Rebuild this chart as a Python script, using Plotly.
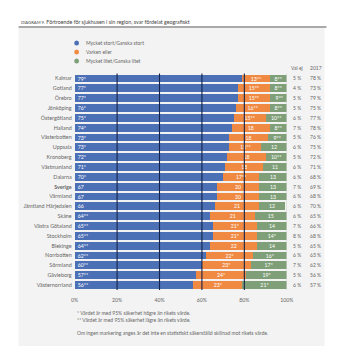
import plotly.graph_objects as go

regions = ["Kalmar", "Gotland", "Örebro", "Jönköping", "Östergötland", "Halland",
           "Västerbotten", "Uppsala", "Kronoberg", "Västmanland", "Dalarna", "Sverige",
           "Värmland", "Jämtland Härjedalen", "Skåne", "Västra Götaland", "Stockholm",
           "Blekinge", "Norrbotten", "Sörmland", "Gävleborg", "Västernorrland"]
high = [79, 77, 77, 76, 75, 74, 73, 73, 72, 71, 70, 67, 67, 66, 64, 65, 65, 64, 62, 60, 57, 56]
high_mark = ["*"] * 11 + [""] * 3 + ["**"] * 8
mid = [13, 15, 15, 16, 15, 18, 18, 15, 18, 18, 17, 20, 20, 21, 21, 21, 21, 22, 22, 23, 24, 23]
mid_mark = ["**", "**", "**", "**", "**", "", "", "**", "", "", "**", "", "", "", "", "*", "*", "", "*", "*", "*", "*"]
low = [8, 8, 9, 8, 10, 8, 9, 12, 10, 11, 13, 13, 13, 12, 15, 14, 14, 14, 16, 17, 19, 21]
low_mark = ["**", "**", "**", "**", "**", "**", "**", "", "**", "", "", "", "", "", "", "", "*", "", "*", "*", "*", "*"]
val_ej = [5, 4, 5, 5, 6, 7, 5, 6, 5, 6, 6, 7, 6, 6, 6, 7, 8, 5, 6, 7, 5, 6]
y2017 = [78, 73, 79, 75, 77, 78, 76, 75, 72, 71, 68, 69, 68, 70, 65, 66, 68, 65, 63, 62, 56, 57]
series_names = ["Mycket stort/Ganska stort", "Varken eller", "Mycket litet/Ganska litet"]
x_ticks = [0, 20, 40, 60, 80, 100]

BLUE = "#4c70b6"
ORANGE = "#f08a43"
GREEN = "#7f9f79"
TXT = "#666666"
FONT = "Lato"

W, H = 347, 352
def px(x):
    return x / W
def py(y):
    return 1 - y / H

y_labels = [f"<b>{r}</b>" if r == "Sverige" else r for r in regions]

fig = go.Figure()
for vals, marks, color, name, anchor in [
    (high, high_mark, BLUE, series_names[0], "start"),
    (mid, mid_mark, ORANGE, series_names[1], "middle"),
    (low, low_mark, GREEN, series_names[2], "middle"),
]:
    fig.add_trace(go.Bar(
        y=y_labels, x=vals, orientation="h", name=name,
        marker=dict(color=color, line=dict(width=0)),
        text=[f"{v}{m}" for v, m in zip(vals, marks)],
        textposition="inside", insidetextanchor=anchor, textangle=0,
        textfont=dict(color="white", size=5.2, family=FONT),
        showlegend=False, hoverinfo="skip",
    ))

top_y, bot_y = 73.5, 290
fig.update_layout(
    width=W, height=H, barmode="stack", bargap=0.2,
    margin=dict(l=0, r=0, t=0, b=0),
    paper_bgcolor="white", plot_bgcolor="rgba(0,0,0,0)",
    font=dict(family=FONT, color=TXT, size=5),
    uniformtext=dict(minsize=4, mode="show"),
    xaxis=dict(domain=[px(73), px(292)], range=[0, 100], tickvals=x_ticks,
               ticktext=[f"{t}%" for t in x_ticks], showgrid=False, zeroline=False,
               tickfont=dict(size=5.2, color=TXT), ticks="", ticklabelstandoff=6),
    yaxis=dict(domain=[py(bot_y), py(top_y)], categoryorder="array", categoryarray=y_labels,
               autorange="reversed", showgrid=False, tickfont=dict(size=5.4, color=TXT),
               ticks="", ticklabelstandoff=2),
)

shapes = [
    dict(type="rect", xref="paper", yref="paper", x0=px(15), x1=px(331), y0=py(346), y1=py(28),
         fillcolor="#f3f3f3", line=dict(width=0), layer="below"),
    dict(type="line", xref="paper", yref="paper", x0=px(15), x1=px(333), y0=py(27), y1=py(27),
         line=dict(color="#555555", width=1.2)),
]
for t in x_ticks[1:5]:
    shapes.append(dict(type="line", xref="x", yref="paper", x0=t, x1=t, y0=py(bot_y), y1=py(top_y),
                       line=dict(color="#15244a", width=1.1), layer="above"))
shapes.append(dict(type="line", xref="x", yref="paper", x0=100, x1=100, y0=py(bot_y), y1=py(top_y),
                   line=dict(color="#c8d0c4", width=0.8), layer="above"))
leg_colors = [BLUE, ORANGE, GREEN]
leg_y = [43, 52, 61]
for c, yy in zip(leg_colors, leg_y):
    shapes.append(dict(type="circle", xref="paper", yref="paper", x0=px(72.5), x1=px(77.5),
                       y0=py(yy + 2.5), y1=py(yy - 2.5), fillcolor=c, line=dict(width=0)))

annotations = [
    dict(xref="paper", yref="paper", x=px(15), y=py(22), xanchor="left", yanchor="middle",
         text="<span style='font-size:4.2px'>DIAGRAM 9.</span> Förtroende för sjukhusen i sin region, svar fördelat geografiskt",
         showarrow=False, font=dict(size=5.3, color="#444444")),
    dict(xref="paper", yref="paper", x=px(303), y=py(68), xanchor="center", yanchor="middle",
         text="Val ej", showarrow=False, font=dict(size=5, color=TXT)),
    dict(xref="paper", yref="paper", x=px(322), y=py(68), xanchor="center", yanchor="middle",
         text="2017", showarrow=False, font=dict(size=5, color=TXT)),
    dict(xref="paper", yref="paper", x=px(73), y=py(313), xanchor="left", yanchor="middle",
         text="* Värdet är med 95% säkerhet högre än rikets värde.", showarrow=False, font=dict(size=5, color=TXT)),
    dict(xref="paper", yref="paper", x=px(73), y=py(320), xanchor="left", yanchor="middle",
         text="** Värdet är med 95% säkerhet lägre än rikets värde.", showarrow=False, font=dict(size=5, color=TXT)),
    dict(xref="paper", yref="paper", x=px(73), y=py(333), xanchor="left", yanchor="middle",
         text="Om ingen markering anges är det inte en statistiskt säkerställd skillnad mot rikets värde.",
         showarrow=False, font=dict(size=5, color=TXT)),
]
for name, yy in zip(series_names, leg_y):
    annotations.append(dict(xref="paper", yref="paper", x=px(83), y=py(yy), xanchor="left", yanchor="middle",
                            text=name, showarrow=False, font=dict(size=5, color=TXT)))
for lab, v, s in zip(y_labels, val_ej, y2017):
    annotations.append(dict(xref="paper", yref="y", x=px(303), y=lab, xanchor="center", yanchor="middle",
                            text=f"{v} %", showarrow=False, font=dict(size=5, color=TXT)))
    annotations.append(dict(xref="paper", yref="y", x=px(322), y=lab, xanchor="center", yanchor="middle",
                            text=f"{s} %", showarrow=False, font=dict(size=5, color=TXT)))

fig.update_layout(shapes=shapes, annotations=annotations)
fig.write_html("out.html")
